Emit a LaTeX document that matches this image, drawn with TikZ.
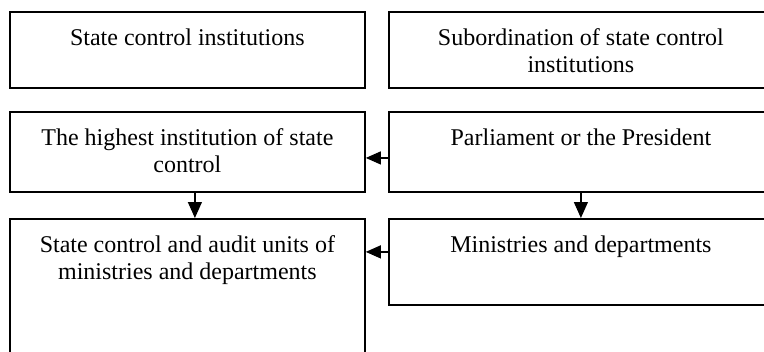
\documentclass[tikz,border=0pt]{standalone}
\usepackage{fontspec}
\setmainfont{Liberation Serif}
\usetikzlibrary{arrows.meta}
% box contents: width, height, text set from the top with a fixed first baseline
\newcommand{\boxtext}[3]{\parbox[c][#2][t]{#1}{\centering\rule{0pt}{17pt}#3\par}}
\tikzset{
  box/.style={draw, line width=0.9pt, inner sep=0pt, anchor=north west,
    font=\fontsize{12}{13.5}\selectfont},
  link/.style={line width=0.6pt, -{Triangle[length=7.5pt,width=6.5pt]}},
  downlink/.style={line width=0.6pt, -{Triangle[length=8pt,width=7pt]}}
}
\begin{document}
\begin{tikzpicture}[x=1pt,y=-1pt]
\clip (0,0) rectangle (382,176);
% left column: institutions
\node[box] (l1) at (4.5,5.5) {\boxtext{177.5pt}{38pt}{State control institutions}};
\node[box] (l2) at (4.5,55.5) {\boxtext{177.5pt}{40.25pt}{The highest institution of state\\control}};
\node[box] (l3) at (4.5,109) {\boxtext{177.5pt}{75pt}{State control and audit units of\\ministries and departments}};
% right column: subordination
\node[box] (r1) at (194,5.5) {\boxtext{192pt}{38pt}{Subordination of state control\\institutions}};
\node[box] (r2) at (194,55.5) {\boxtext{192pt}{40.25pt}{Parliament or the President}};
\node[box] (r3) at (194,109) {\boxtext{192pt}{43pt}{Ministries and departments}};
% connectors
\draw[link] ([yshift=-2.9pt]r2.west) -- ([yshift=-2.9pt]r2.west -| l2.east);
\draw[link] ([yshift=5pt]r3.west) -- ([yshift=5pt]r3.west -| l3.east);
\draw[downlink] ([xshift=3.75pt]l2.south) -- ([xshift=3.75pt]l3.north);
\draw[downlink] (r2.south) -- (r3.north);
\end{tikzpicture}
\end{document}
